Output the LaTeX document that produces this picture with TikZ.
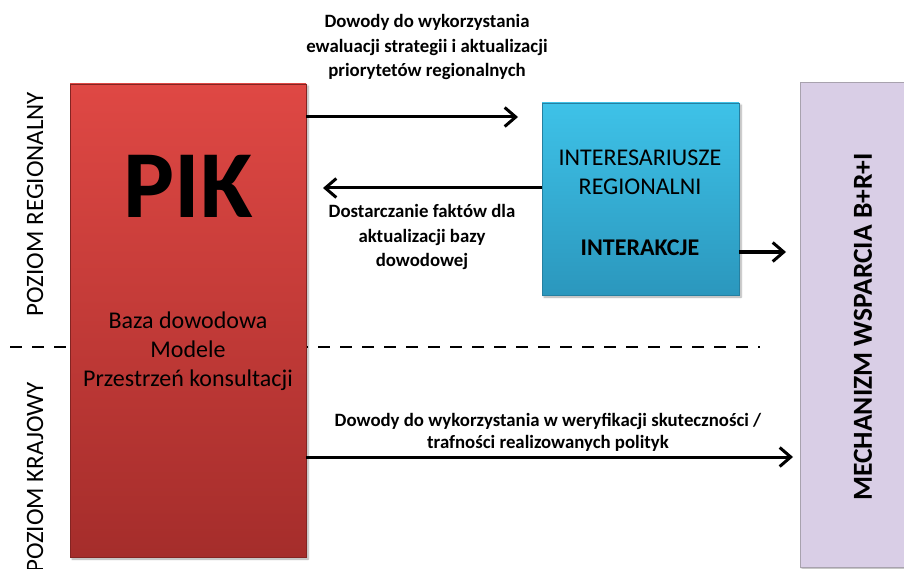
\documentclass[tikz,border=0pt]{standalone}
\usepackage{fontspec}
\setmainfont{Carlito}
\usetikzlibrary{arrows.meta,shadows.blur}

\definecolor{pikTop}{HTML}{DF4844}
\definecolor{pikBottom}{HTML}{A52D2B}
\definecolor{stakeTop}{HTML}{3EC2E8}
\definecolor{stakeBottom}{HTML}{2B97BD}
\definecolor{mechFill}{HTML}{D9CEE6}
\definecolor{mechEdge}{HTML}{A8A2AE}

\begin{document}
\begin{tikzpicture}[x=1pt,y=-1pt,
  box/.style={anchor=north west, inner sep=0pt, outer sep=0pt,
    blur shadow={shadow xshift=2pt, shadow yshift=-2pt, shadow blur steps=6, shadow opacity=35}},
  flow/.style={line width=3pt, -{Straight Barb[length=11pt,width=19pt,line width=3pt]}},
  lbl/.style={font=\fontsize{18.8}{24.5}\selectfont\bfseries, align=center, inner sep=0pt},
  inbox/.style={font=\fontsize{24}{29}\selectfont, align=center, inner sep=0pt},
  level/.style={rotate=90, font=\fontsize{25}{25}\selectfont, inner sep=0pt},
  divider/.style={line width=2.5pt, dash pattern=on 12pt off 10pt}
]
\useasboundingbox (0,0) rectangle (904,569);

% boundary between the regional and the national level
\coordinate (divL) at (10,347);
\coordinate (divR) at (760,347);
\draw[divider] (divL) -- (divR);

% level labels on the left
\node[level] (regLevel) at (35,204) {POZIOM REGIONALNY};
\node[level, anchor=east] (natLevel) at (35,382) {POZIOM KRAJOWY};

% main boxes
\node[box, minimum width=236pt, minimum height=473pt,
      top color=pikTop, bottom color=pikBottom, draw=pikBottom!80!black, line width=0.4pt]
      (pik) at (70,84) {};
\node[box, minimum width=197pt, minimum height=192pt,
      top color=stakeTop, bottom color=stakeBottom, draw=stakeBottom!85!black, line width=0.4pt]
      (stake) at (542,103) {};
\node[box, minimum width=130pt, minimum height=484pt,
      fill=mechFill, draw=mechEdge, line width=1pt]
      (mech) at (800,83) {};

% box contents
\node[font=\fontsize{96}{96}\selectfont\bfseries, inner sep=0pt] (pikTitle) at (188,186) {PIK};
\node[inbox] (pikDesc) at (188,351) {Baza dowodowa\\Modele\\Przestrzeń konsultacji};
\node[inbox] (stakeName) at (640,172) {INTERESARIUSZE\\REGIONALNI};
\node[inbox, font=\fontsize{24}{29}\selectfont\bfseries] (stakeAct) at (640,248) {INTERAKCJE};
\node[rotate=90, inner sep=0pt, font=\fontsize{27.5}{27.5}\selectfont\bfseries] (mechName) at (863,327) {MECHANIZM WSPARCIA B+R+I};

% free ends of the connectors
\coordinate (toStake) at (518,117);
\coordinate (toPik) at (323,188);
\coordinate (toMechA) at (786,252);
\coordinate (toMechB) at (793,457);

% connectors
\draw[flow] (pik.east |- toStake) -- (toStake);
\draw[flow] (stake.west |- toPik) -- (toPik);
\draw[flow] (stake.east |- toMechA) -- (toMechA);
\draw[flow] (pik.east |- toMechB) -- (toMechB);

% connector labels
\node[lbl] (evalLbl) at (427,47) {Dowody do wykorzystania\\ewaluacji strategii i aktualizacji\\priorytetów regionalnych};
\node[lbl] (factLbl) at (422,237) {Dostarczanie faktów dla\\aktualizacji bazy\\dowodowej};
\node[lbl, font=\fontsize{18.8}{22}\selectfont\bfseries] (verLbl) at (548,432) {Dowody do wykorzystania w weryfikacji skuteczności /\\trafności realizowanych polityk};
\end{tikzpicture}
\end{document}
